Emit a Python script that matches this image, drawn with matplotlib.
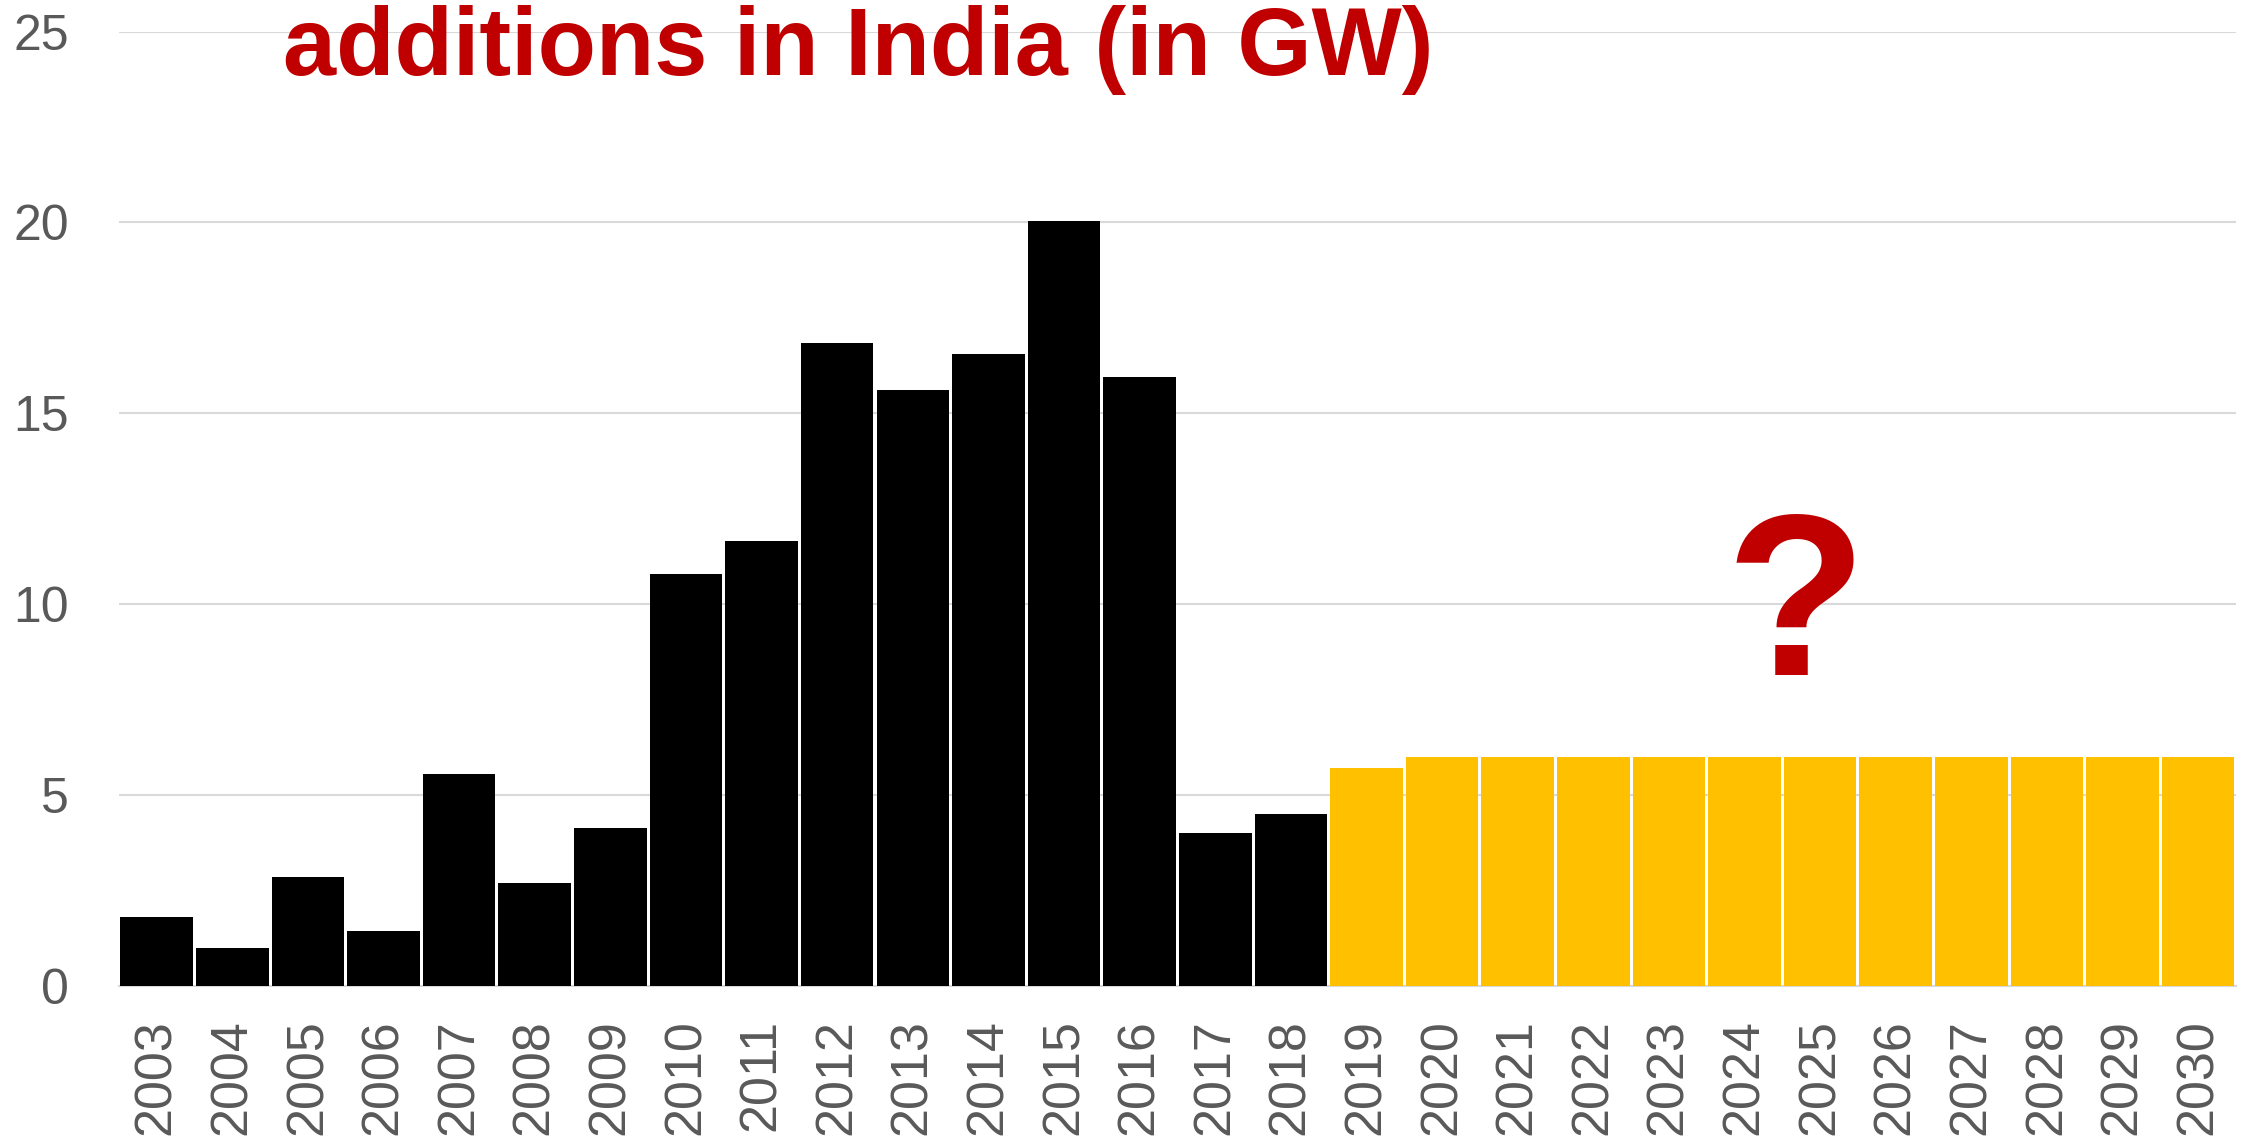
import matplotlib
matplotlib.use("Agg")
import matplotlib.pyplot as plt

# Annual additions (GW)
years = [str(y) for y in range(2003, 2031)]
actual_years = years[:16]
actual_values = [1.8, 1.0, 2.85, 1.45, 5.55, 2.7, 4.15, 10.8, 11.65, 16.85,
                 15.6, 16.55, 20.05, 15.95, 4.0, 4.5]
target_years = years[16:]
target_values = [5.7, 6, 6, 6, 6, 6, 6, 6, 6, 6, 6, 6]
y_ticks = [0, 5, 10, 15, 20, 25]

plt.rcParams['font.family'] = ['Liberation Sans', 'DejaVu Sans']

fig = plt.figure(figsize=(22.44, 11.42), dpi=100)
ax = fig.add_axes([0.053, 0.1366, 0.9434, 0.8358])

ax.bar(actual_years, actual_values, width=0.96, color='#000000', zorder=3)
ax.bar(target_years, target_values, width=0.96, color='#ffc000', zorder=3)

ax.set_xlim(-0.5, len(years) - 0.5)
ax.set_ylim(0, 25)
ax.set_yticks(y_ticks)
ax.yaxis.grid(True, color='#d9d9d9', linewidth=1.5, zorder=0)
ax.set_axisbelow(True)

for side in ['top', 'right', 'left']:
    ax.spines[side].set_visible(False)
ax.spines['bottom'].set_color('#d9d9d9')
ax.spines['bottom'].set_linewidth(1.5)

ax.tick_params(axis='y', length=0, pad=36, labelsize=36, labelcolor='#595959')
ax.tick_params(axis='x', length=0, pad=24, labelsize=37.5, labelcolor='#595959',
               labelrotation=90)

# question mark over the projection bars
ax.text(21.68, 8.15, '?', fontsize=166, fontweight='bold', color='#c00000',
        ha='center', va='baseline', zorder=4)

# visible part of the slide title
fig.text(0.126, 0.934, 'additions in India (in GW)', fontsize=68.8,
         fontweight='bold', color='#c00000', ha='left', va='baseline')

fig.savefig('out.png', dpi=100)
